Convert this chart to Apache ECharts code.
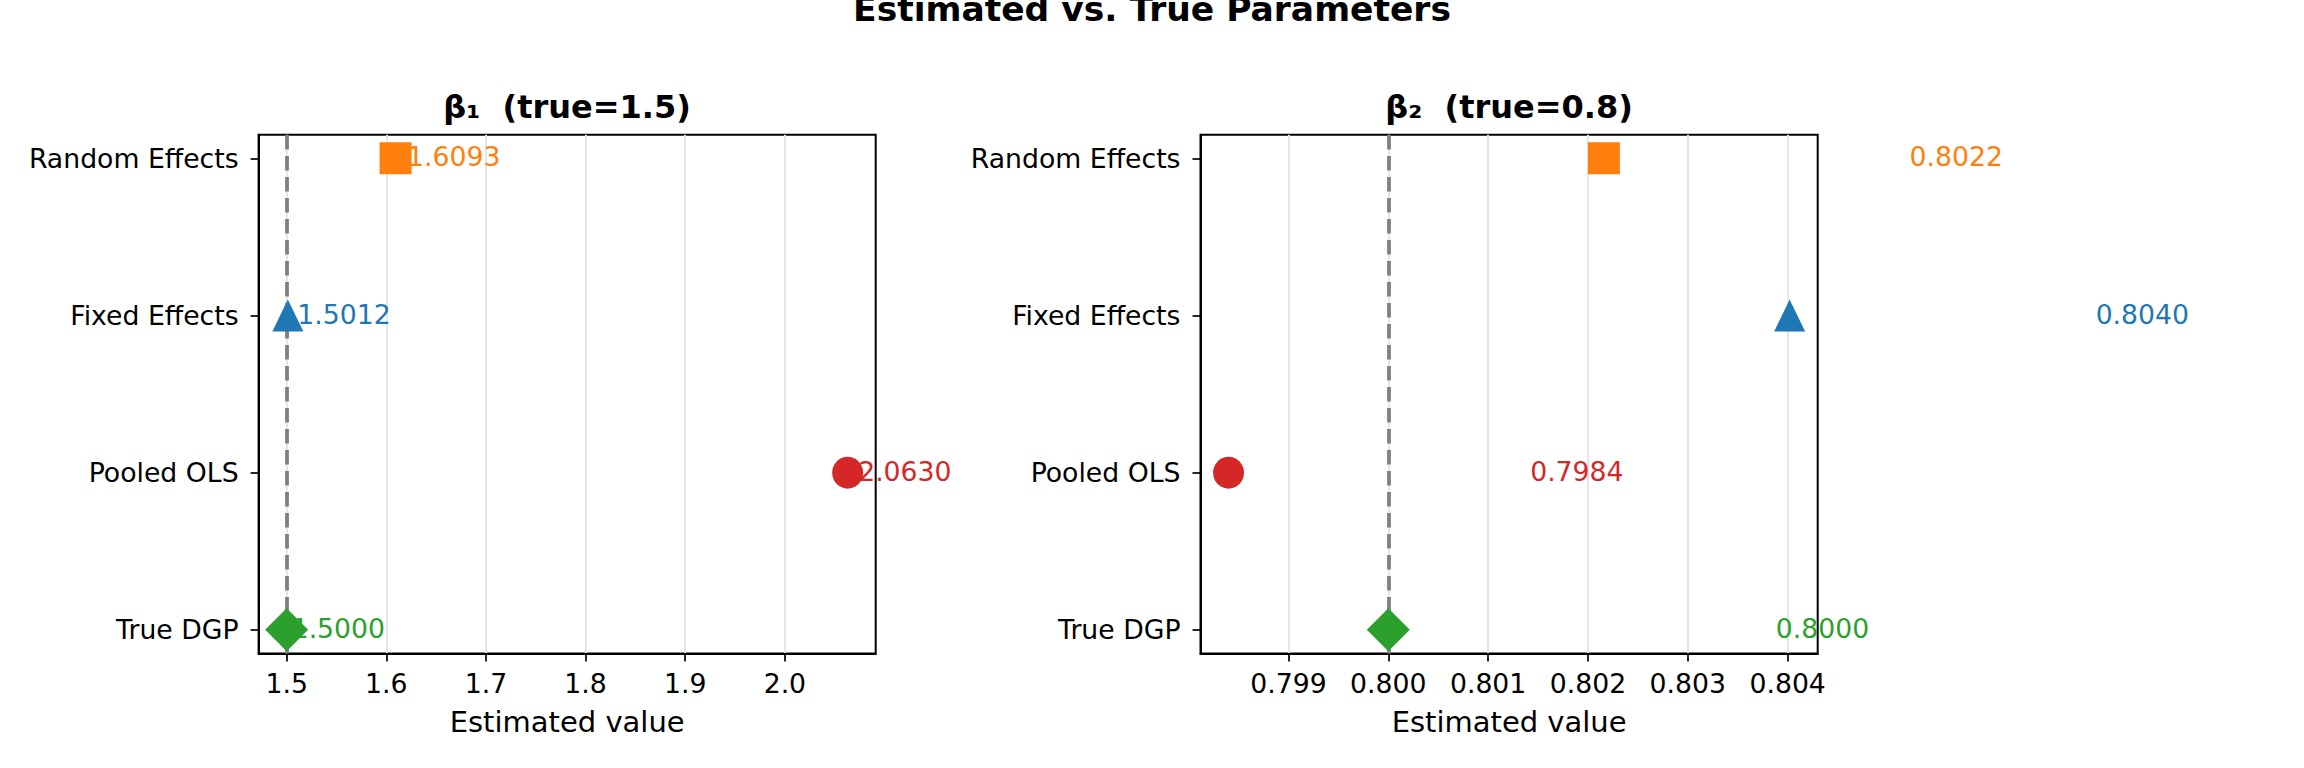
<!DOCTYPE html>
<html>
<head>
<meta charset="utf-8">
<script src="https://cdn.jsdelivr.net/npm/echarts@6/dist/echarts.min.js"></script>
<style>
html,body{margin:0;padding:0;background:#fff;}
#chart{width:2304px;height:768px;}
</style>
</head>
<body>
<div id="chart"></div>
<script>
// ---- data ----
const methods = ['True DGP', 'Pooled OLS', 'Fixed Effects', 'Random Effects'];
const beta1Est = [1.5000, 2.0630, 1.5012, 1.6093];
const beta2Est = [0.8000, 0.7984, 0.80402, 0.80216];
const trueBeta1 = 1.5;
const trueBeta2 = 0.8;
const xTicksB1 = [1.5, 1.6, 1.7, 1.8, 1.9, 2.0];
const xTicksB2 = [0.799, 0.800, 0.801, 0.802, 0.803, 0.804];
const yTicks = [0, 1, 2, 3];
const suptitleText = 'Estimated vs. True Parameters';
const panelTitles = ['β₁  (true=1.5)', 'β₂  (true=0.8)'];
const xAxisName = 'Estimated value';

// ---- style ----
const colors = ['#2ca02c', '#d62728', '#1f77b4', '#ff7f0e'];
const symbols = ['diamond', 'circle', 'triangle', 'rect'];
const symbolSizes = [[43, 43], [31, 32], [31, 32], [32, 32]];
const labelDxB1 = [5, 10.5, 9.5, 11.5];
const labelDxB2 = [387.5, 301.6, 306, 305.6];
const FONT = 'DejaVu Sans';
const TICK_FS = 26.7;

function padRange(arr) {
  const mn = Math.min(...arr), mx = Math.max(...arr);
  const m = (mx - mn) * 0.05;
  return [mn - m, mx + m];
}

const grids = [
  {left: 258.6, top: 134.8, width: 617.1, height: 518.6},
  {left: 1200.5, top: 134.8, width: 617.2, height: 518.6}
];

function xAxisFor(idx, est, ticks, digits) {
  const r = padRange(est);
  return {
    type: 'value', gridIndex: idx, min: r[0], max: r[1],
    name: xAxisName, nameLocation: 'middle', nameGap: 53.8,
    nameTextStyle: {fontFamily: FONT, fontSize: 29, color: '#000'},
    axisLine: {show: true, onZero: false, lineStyle: {color: '#000', width: 2}},
    axisTick: {show: true, customValues: ticks, length: 8, lineStyle: {color: '#000', width: 1.7}},
    axisLabel: {show: true, customValues: ticks, margin: 16.5, fontFamily: FONT, fontSize: TICK_FS, color: '#000',
      formatter: v => Number(v).toFixed(digits)},
    splitLine: {show: true, lineStyle: {color: '#e6e6e6', width: 2}}
  };
}
function yAxisFor(idx) {
  return {
    type: 'value', gridIndex: idx, min: -0.15, max: 3.15,
    axisLine: {show: true, onZero: false, lineStyle: {color: '#000', width: 2}},
    axisTick: {show: true, customValues: yTicks, length: 8, lineStyle: {color: '#000', width: 1.7}},
    axisLabel: {show: true, customValues: yTicks, margin: 20, fontFamily: FONT, fontSize: TICK_FS, color: '#000',
      padding: [3, 0, 0, 0],
      formatter: v => methods[Math.round(v)]},
    splitLine: {show: false}
  };
}

function seriesFor(idx, est, trueVal, dxArr) {
  const labelSeries = {
    type: 'scatter', xAxisIndex: idx, yAxisIndex: idx, z: 3, clip: false, silent: true,
    symbol: 'circle', symbolSize: 1,
    itemStyle: {color: 'rgba(0,0,0,0)'},
    data: est.map((v, i) => ({
      value: [v, i],
      label: {
        show: true, position: 'inside', align: 'left', verticalAlign: 'middle',
        offset: [dxArr[i], -1.5],
        formatter: () => v.toFixed(4),
        fontFamily: FONT, fontSize: TICK_FS, color: colors[i],
        textBorderWidth: 0, textBorderColor: 'transparent', opacity: 1
      }
    })),
    markLine: {
      silent: true, symbol: 'none', label: {show: false},
      lineStyle: {color: '#808080', width: 3.8, type: [14.5, 6.5]},
      data: [{xAxis: trueVal}]
    }
  };
  const markerSeries = {
    type: 'scatter', xAxisIndex: idx, yAxisIndex: idx, z: 5, clip: false, silent: true,
    data: est.map((v, i) => ({
      value: [v, i],
      symbol: symbols[i],
      symbolSize: symbolSizes[i],
      itemStyle: {color: colors[i], opacity: 1}
    }))
  };
  return [labelSeries, markerSeries];
}

const chart = echarts.init(document.getElementById('chart'), null, {renderer: 'svg'});
chart.setOption({
  backgroundColor: '#fff',
  animation: false,
  grid: grids.map(g => Object.assign({show: true, borderColor: '#000', borderWidth: 2, backgroundColor: 'transparent'}, g)),
  xAxis: [xAxisFor(0, beta1Est, xTicksB1, 1), xAxisFor(1, beta2Est, xTicksB2, 3)],
  yAxis: [yAxisFor(0), yAxisFor(1)],
  series: [...seriesFor(0, beta1Est, trueBeta1, labelDxB1), ...seriesFor(1, beta2Est, trueBeta2, labelDxB2)],
  graphic: [
    {type: 'text', x: 1152, y: 8.7, z: 10,
      style: {text: suptitleText, fill: '#000', font: 'bold 34.5px "DejaVu Sans"', align: 'center', verticalAlign: 'middle'}},
    {type: 'text', x: 567.1, y: 107, z: 10,
      style: {text: panelTitles[0], fill: '#000', font: 'bold 32px "DejaVu Sans"', align: 'center', verticalAlign: 'middle'}},
    {type: 'text', x: 1509.1, y: 107, z: 10,
      style: {text: panelTitles[1], fill: '#000', font: 'bold 32px "DejaVu Sans"', align: 'center', verticalAlign: 'middle'}}
  ]
});
</script>
</body>
</html>
